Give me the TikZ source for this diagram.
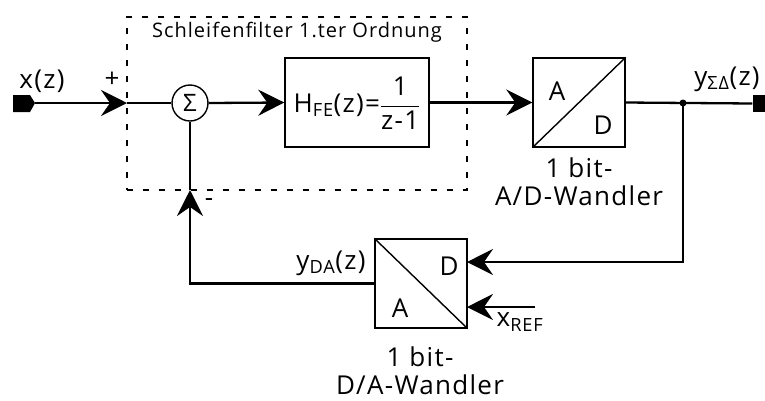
\documentclass[tikz,border=0pt]{standalone}
\usepackage{fontspec}
\setmainfont[LetterSpace=5]{Open Sans}
\usetikzlibrary{arrows.meta}
\begin{document}
\begin{tikzpicture}[x=1pt,y=-1pt,
  wire/.style={line width=2.3pt},
  arr/.style={wire,-{Stealth[length=26pt,width=26pt,inset=9pt]}},
  blk/.style={draw,line width=1.4pt,inner sep=0pt},
  lbl/.style={font=\fontsize{26}{30}\selectfont,inner sep=0pt},
  sml/.style={font=\fontsize{20}{24}\selectfont,inner sep=0pt}]
\useasboundingbox (0,0) rectangle (765,400);
% dashed loop-filter frame
\node[draw,dash pattern=on 6pt off 10pt,line width=1.2pt,minimum width=340pt,minimum height=173pt,inner sep=0pt] (frame) at (297,103.5) {};
\node[sml] (title) at (297,32) {Schleifenfilter 1.ter Ordnung};
% terminals
\node[inner sep=0pt,minimum size=1pt] (in) at (22,103) {};
\fill[black] (13,95) -- (30,95) -- (35,103) -- (30,112) -- (13,112) -- cycle;
\coordinate (inE) at (35,103);
\node[fill=black,inner sep=0pt,minimum width=13pt,minimum height=17pt] (out) at (759,103.5) {};
% blocks
\node[draw,circle,line width=1.4pt,minimum size=36pt,inner sep=0pt,font=\fontsize{24}{28}\selectfont] (sig) at (190,103) {Σ};
\node[blk,minimum width=144pt,minimum height=89pt] (hfe) at (357,102.5) {};
\node[lbl] (hfetxt) at (357,103) {H\textsubscript{FE}(z)=$\displaystyle\frac{\mbox{1}}{\mbox{z-1}}$};
\node[blk,minimum width=92pt,minimum height=89pt] (ad) at (579,102.5) {};
\draw[line width=1.4pt] (ad.south west) -- (ad.north east);
\node[lbl] (adA) at (557,91) {A};
\node[lbl] (adD) at (603,125) {D};
\node[lbl] (adl1) at (579,168) {1 bit-};
\node[lbl] (adl2) at (579,196) {A/D-Wandler};
\node[blk,minimum width=92pt,minimum height=89pt] (da) at (421,283.5) {};
\draw[line width=1.4pt] (da.north west) -- (da.south east);
\node[lbl] (daD) at (449,266) {D};
\node[lbl] (daA) at (400,308) {A};
\node[lbl] (dal1) at (420,357) {1 bit-};
\node[lbl] (dal2) at (420,385) {D/A-Wandler};
% labels
\node[lbl] (xz) at (42,81) {x(z)};
\node[lbl] (plus) at (112,80) {+};
\node[lbl] (minus) at (209,203) {-};
\node[lbl] (yout) at (727,79) {y\textsubscript{ΣΔ}(z)};
\node[lbl] (yda) at (331,263) {y\textsubscript{DA}(z)};
\node[lbl] (xref) at (520,322) {x\textsubscript{REF}};
% connectors
\coordinate (p1) at (127,103);
\draw[arr] (inE) -- (p1);
\draw[wire] (p1) -- (sig.west);
\draw[arr] (sig.east) -- (hfe.west);
\draw[arr] (hfe.east) -- (ad.west);
\coordinate (j) at (683,103);
\draw[wire] (ad.east) -- (out.west);
\fill (j) circle (3.5pt);
\coordinate (dain) at (467,262);
\draw[arr] (j) |- (dain);
\coordinate (fb) at (190,190);
\draw[arr] (da.west) -| (fb);
\draw[wire] (fb) -- (sig.south);
\coordinate (xr) at (535,307);
\coordinate (xrin) at (467,307);
\draw[arr] (xr) -- (xrin);
\end{tikzpicture}
\end{document}
